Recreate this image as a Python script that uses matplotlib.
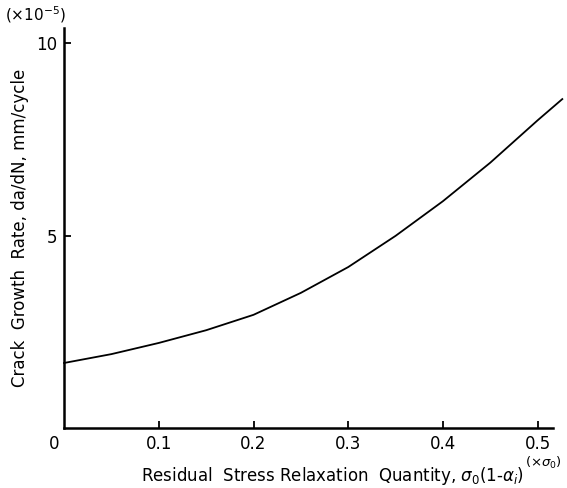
import matplotlib
matplotlib.use("Agg")
import matplotlib.pyplot as plt

# Data (y in units of 1e-5 mm/cycle)
x_vals = [0.0, 0.05, 0.10, 0.15, 0.20, 0.25, 0.30, 0.35, 0.40, 0.45, 0.50, 0.526]
rate_vals = [1.70, 1.93, 2.22, 2.55, 2.95, 3.52, 4.19, 5.00, 5.90, 6.90, 8.00, 8.55]
x_ticks = [0.1, 0.2, 0.3, 0.4, 0.5]
x_tick_labels = ["0.1", "0.2", "0.3", "0.4", "0.5"]
y_ticks = [5, 10]
y_tick_labels = ["5", "10"]

plt.rcParams['font.family'] = ['DejaVu Sans']
fig = plt.figure(figsize=(5.67, 4.88), dpi=100)
ax = fig.add_axes([0.113, 0.122, 0.862, 0.821])

ax.plot(x_vals, rate_vals, color="black", lw=1.3, clip_on=False)

ax.set_xlim(0, 0.516)
ax.set_ylim(0, 10.4)
for s in ["top", "right"]:
    ax.spines[s].set_visible(False)
for s in ["left", "bottom"]:
    ax.spines[s].set_linewidth(1.8)

ax.set_xticks(x_ticks)
ax.set_xticklabels(x_tick_labels)
ax.set_yticks(y_ticks)
ax.set_yticklabels(y_tick_labels)
ax.tick_params(direction="in", length=5, width=1.3, labelsize=12, pad=5)

ax.text(-0.02, -0.016, "0", transform=ax.transAxes, ha="center", va="top", fontsize=12)
ax.text(0.506, -0.9, r"(×$\sigma_0$)", transform=ax.transData, ha="center", va="center",
        fontsize=9.5, clip_on=False)
fig.text(0.008, 0.97, r"(×10$^{-5}$)", ha="left", va="center", fontsize=11)

ax.set_xlabel(r"Residual  Stress Relaxation  Quantity, $\sigma_0$(1-$\alpha_i$)",
              fontsize=12, labelpad=8, x=0.55)
ax.set_ylabel("Crack  Growth  Rate, da/dN, mm/cycle", fontsize=12, labelpad=5)

fig.savefig("out.png", dpi=100)
